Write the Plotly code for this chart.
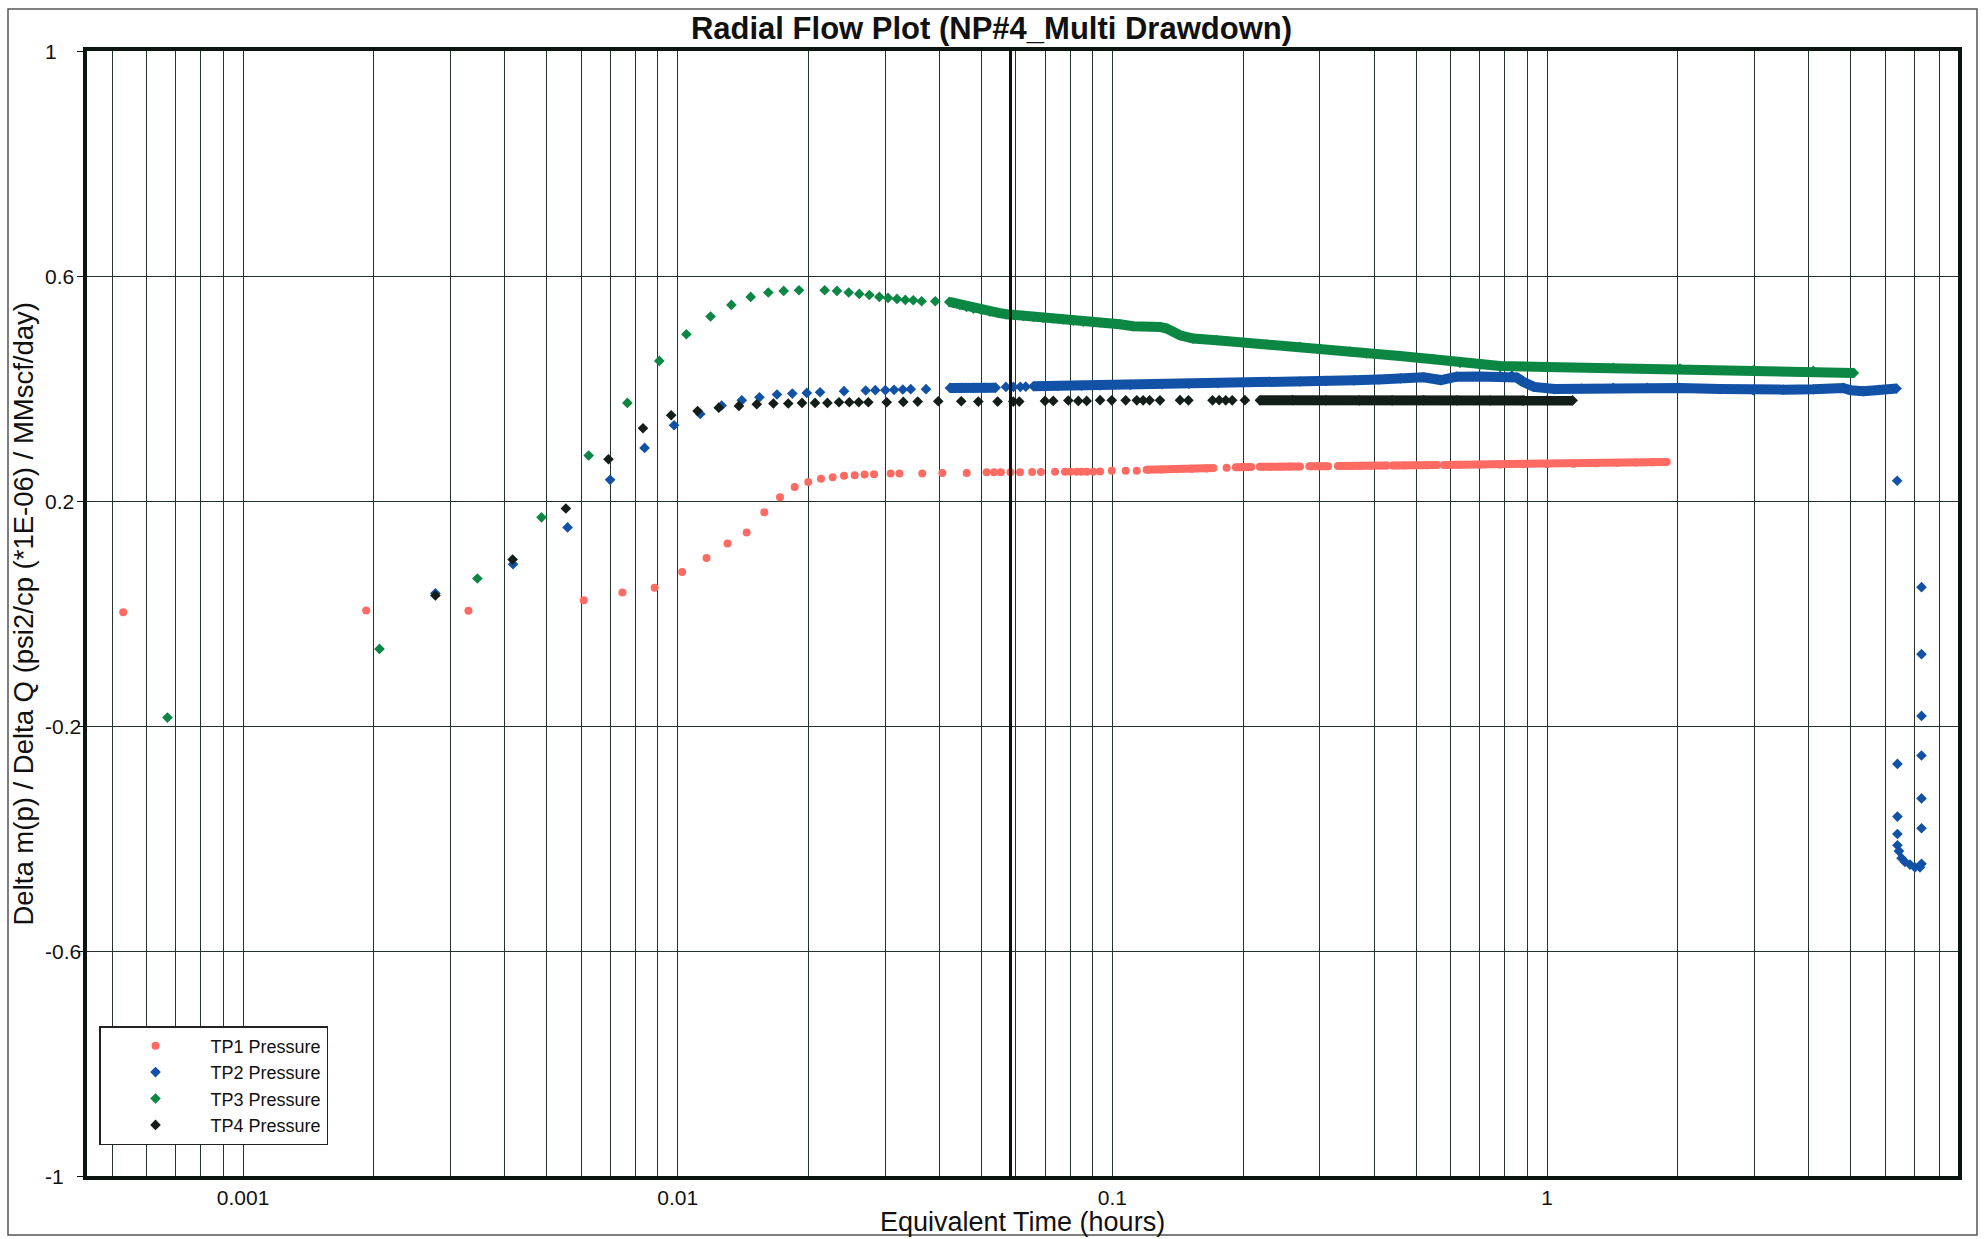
import plotly.graph_objects as go

# ---- Data: equivalent time (hours) and normalised pressure change ----
TP1_TIME = [0.00053, 0.00192, 0.00330, 0.00608, 0.00746, 0.00885, 0.01024, 0.01165,
            0.01302, 0.01441, 0.01582, 0.01719, 0.01858, 0.01997, 0.02136, 0.02273,
            0.02413, 0.02554, 0.02692, 0.02829, 0.03090, 0.03236, 0.03653, 0.04062,
            0.04622, 0.05137, 0.0534, 0.0554, 0.0583, 0.0613, 0.0654, 0.0685, 0.0738,
            0.0778, 0.0801, 0.0828, 0.0849, 0.0873, 0.0904, 0.0937, 0.0997, 0.1073,
            0.1138, 0.1199, 0.1299, 0.1406, 0.1522, 0.1648, 0.1707, 0.1832, 0.1923,
            0.2000, 0.2087, 0.2183, 0.2300, 0.2430, 0.2560, 0.2702, 0.2839, 0.2985,
            0.3135, 0.3302, 0.3500, 0.3720, 0.3950, 0.4279, 0.4418, 0.4700, 0.5000,
            0.5300, 0.5588, 0.5796, 0.6300, 0.7000, 0.7791, 0.8800, 1.0000, 1.1500,
            1.3000, 1.4500, 1.6000, 1.7500, 1.8850]
TP1_VALUE = [0.0024, 0.0054, 0.0047, 0.0237, 0.0374, 0.0456, 0.0740, 0.0985,
             0.1245, 0.1440, 0.1801, 0.2068, 0.2250, 0.2340, 0.2394, 0.2424,
             0.2447, 0.2460, 0.2472, 0.2477, 0.2489, 0.2489, 0.2489, 0.2500,
             0.2500, 0.2510, 0.2510, 0.2510, 0.2512, 0.2512, 0.2515, 0.2515, 0.2518,
             0.2518, 0.2518, 0.2518, 0.2520, 0.2520, 0.2522, 0.2525, 0.2536, 0.2538,
             0.2540, 0.2555, 0.2560, 0.2566, 0.2572, 0.2580, 0.2585, 0.2592, 0.2598,
             0.2603, 0.2606, 0.2608, 0.2610, 0.2611, 0.2612, 0.2614, 0.2616, 0.2618,
             0.2620, 0.2622, 0.2624, 0.2626, 0.2627, 0.2629, 0.2631, 0.2633, 0.2635,
             0.2637, 0.2640, 0.2641, 0.2643, 0.2645, 0.2649, 0.2652, 0.2657, 0.2663,
             0.2670, 0.2678, 0.2685, 0.2690, 0.2695]
TP1_BANDS = [(0.1199, 0.1707), (0.1923, 0.2087), (0.2183, 0.2702), (0.2839, 0.3135),
             (0.3302, 0.4279), (0.4418, 0.5588), (0.5796, 1.8850)]

TP2_TIME = [0.00277, 0.00418, 0.00558, 0.00699, 0.00839, 0.00981, 0.01127, 0.01262,
            0.01404, 0.01542, 0.01692, 0.01835, 0.01981, 0.02126, 0.02413, 0.02707,
            0.02848, 0.03004, 0.03146, 0.03295, 0.03436, 0.03726, 0.0423, 0.0450,
            0.0480, 0.0510, 0.0539, 0.0569, 0.0592, 0.0614, 0.0632, 0.0658, 0.0750,
            0.0850, 0.0937, 0.1100, 0.1300, 0.1500, 0.1750, 0.2000, 0.2300, 0.2700,
            0.3100, 0.3600, 0.4100, 0.4600, 0.5200, 0.5700, 0.6200, 0.7000, 0.7800,
            0.8300, 0.8510, 0.8810, 0.9340, 1.0400, 1.2000, 1.4200, 1.7000, 2.0200,
            2.5000, 2.9800, 3.5000, 4.1000, 4.8000, 5.0000, 5.3400, 5.8000, 6.3700,
            6.39, 7.27, 7.27, 7.27, 6.40, 7.27, 7.27, 6.40, 7.27, 6.40, 6.40, 6.45,
            6.54, 6.66, 6.84, 7.02, 7.21, 7.27]
TP2_VALUE = [0.0360, 0.0877, 0.1530, 0.2376, 0.2944, 0.3347, 0.3548, 0.3698,
             0.3790, 0.3845, 0.3893, 0.3910, 0.3922, 0.3934, 0.3952, 0.3964,
             0.3970, 0.3970, 0.3976, 0.3982, 0.3988, 0.3988, 0.4010, 0.4012,
             0.4012, 0.4014, 0.4015, 0.4028, 0.4028, 0.4030, 0.4032, 0.4040, 0.4045,
             0.4050, 0.4055, 0.4065, 0.4075, 0.4085, 0.4095, 0.4105, 0.4115, 0.4125,
             0.4135, 0.4145, 0.4160, 0.4180, 0.4200, 0.4150, 0.4210, 0.4215, 0.4225,
             0.4230, 0.4195, 0.4120, 0.4028, 0.3990, 0.4000, 0.4010, 0.4010, 0.4010,
             0.3990, 0.3970, 0.3980, 0.3987, 0.4010, 0.3970, 0.3952, 0.3975, 0.4000,
             0.236, 0.0468, -0.0723, -0.182, -0.2674, -0.2524, -0.3287, -0.361, -0.3817,
             -0.392, -0.412, -0.4224, -0.435, -0.4416, -0.4464, -0.4512, -0.4512, -0.445]
TP2_BANDS = [(0.0423, 0.0539), (0.0658, 6.3700)]

TP3_TIME = [0.00067, 0.00206, 0.00346, 0.00486, 0.00624, 0.00766, 0.00907, 0.01047,
            0.01190, 0.01329, 0.01472, 0.01616, 0.01753, 0.01901, 0.02178, 0.02325,
            0.02474, 0.02617, 0.02760, 0.02910, 0.03047, 0.03195, 0.03339, 0.03483,
            0.03640, 0.03913, 0.04215, 0.0430, 0.0446, 0.0462, 0.0479, 0.0500, 0.0523,
            0.0547, 0.0571, 0.0597, 0.0624, 0.0658, 0.0693, 0.0731, 0.0771, 0.0813,
            0.0857, 0.0904, 0.0937, 0.1041, 0.1117, 0.1287, 0.1334, 0.1431, 0.1535,
            0.1737, 0.2000, 0.2264, 0.2702, 0.3004, 0.3521, 0.3846, 0.4587, 0.5472,
            0.6303, 0.7007, 0.7791, 0.9977, 1.4200, 2.0220, 2.9820, 4.0960, 5.0800]
TP3_VALUE = [-0.185, -0.063, 0.0623, 0.1710, 0.2809, 0.3744, 0.4490, 0.4965,
             0.5280, 0.5486, 0.5628, 0.5706, 0.5735, 0.5747, 0.5747, 0.5735,
             0.5706, 0.5681, 0.5663, 0.5628, 0.5610, 0.5592, 0.5575, 0.5569,
             0.5551, 0.5551, 0.5539, 0.5521, 0.5486, 0.5450, 0.5421, 0.5392, 0.5368,
             0.5344, 0.5320, 0.5303, 0.5290, 0.5272, 0.5255, 0.5244, 0.5226, 0.5208,
             0.5190, 0.5178, 0.5173, 0.5143, 0.5107, 0.5095, 0.5066, 0.4947, 0.4888,
             0.4858, 0.4823, 0.4787, 0.4739, 0.4704, 0.4657, 0.4622, 0.4579, 0.4521,
             0.4455, 0.4420, 0.4400, 0.4384, 0.4366, 0.4355, 0.4325, 0.4313, 0.4277]
TP3_BANDS = [(0.04215, 5.0800)]

TP4_TIME = [0.00277, 0.00417, 0.00553, 0.00693, 0.00832, 0.00966, 0.01111, 0.01243,
            0.01383, 0.01520, 0.01660, 0.01796, 0.01932, 0.02070, 0.02210, 0.02350,
            0.02482, 0.02609, 0.02745, 0.03026, 0.03304, 0.03566, 0.03976, 0.04491,
            0.04916, 0.05445, 0.05916, 0.06107, 0.06998, 0.07311, 0.07918, 0.08349,
            0.08727, 0.09370, 0.0997, 0.1073, 0.1138, 0.1177, 0.1218, 0.1287, 0.1431,
            0.1496, 0.1700, 0.1761, 0.1823, 0.1887, 0.2018, 0.2185, 0.2600, 0.3100,
            0.3700, 0.4400, 0.5200, 0.6200, 0.7400, 0.8800, 1.0000, 1.1450]
TP4_VALUE = [0.0320, 0.0960, 0.1867, 0.2743, 0.3294, 0.3525, 0.3600, 0.3660,
             0.3690, 0.3720, 0.3733, 0.3733, 0.3744, 0.3744, 0.3744, 0.3756,
             0.3756, 0.3756, 0.3756, 0.3756, 0.3762, 0.3768, 0.3774, 0.3774,
             0.3768, 0.3768, 0.3768, 0.3768, 0.3780, 0.3780, 0.3786, 0.3780,
             0.3780, 0.3792, 0.3790, 0.3790, 0.3790, 0.3790, 0.3790, 0.3790, 0.3792,
             0.3790, 0.3790, 0.3792, 0.3790, 0.3790, 0.3792, 0.3790, 0.3792, 0.3790,
             0.3788, 0.3790, 0.3792, 0.3790, 0.3786, 0.3784, 0.3786, 0.3788]
TP4_BANDS = [(0.2185, 1.1450)]

SERIES_NAMES = ["TP1 Pressure", "TP2 Pressure", "TP3 Pressure", "TP4 Pressure"]
SERIES_COLORS = ["#FF6B62", "#1152A6", "#0C8743", "#141E19"]
SERIES_SYMBOLS = ["circle", "diamond", "diamond", "diamond"]

# Gridline positions on the log time axis, labels only at decades
X_GRID = [0.0005, 0.0006, 0.0007, 0.0008, 0.0009,
          0.001, 0.002, 0.003, 0.004, 0.005, 0.006, 0.007, 0.008, 0.009,
          0.01, 0.02, 0.03, 0.04, 0.05, 0.06, 0.07, 0.08, 0.09,
          0.1, 0.2, 0.3, 0.4, 0.5, 0.6, 0.7, 0.8, 0.9,
          1, 2, 3, 4, 5, 6, 7, 8]
X_LABELS = {0.001: "0.001", 0.01: "0.01", 0.1: "0.1", 1: "1"}
X_RANGE_LOG = [-3.359, 0.9455]

Y_TICKS = [1, 0.6, 0.2, -0.2, -0.6, -1]
Y_TICK_TEXT = ["1", "0.6", "0.2", "-0.2", "-0.6", "-1"]

MARKER_TIME = 0.0583  # heavy vertical reference line

FONT = "Liberation Sans, Arial, Helvetica, sans-serif"
GRID_COLOR = "#22342B"
AXIS_COLOR = "#0B1510"


def band_xy(times, values, bands):
    """Connect the densely sampled stretches of a series into a solid band."""
    bx, by = [], []
    for lo, hi in bands:
        for t, v in zip(times, values):
            if lo <= t <= hi:
                bx.append(t)
                by.append(v)
        bx.append(None)
        by.append(None)
    return bx, by


fig = go.Figure()

all_series = [(TP1_TIME, TP1_VALUE, TP1_BANDS), (TP2_TIME, TP2_VALUE, TP2_BANDS),
              (TP3_TIME, TP3_VALUE, TP3_BANDS), (TP4_TIME, TP4_VALUE, TP4_BANDS)]

for (times, values, bands), name, color, symbol in zip(all_series, SERIES_NAMES,
                                                        SERIES_COLORS, SERIES_SYMBOLS):
    bx, by = band_xy(times, values, bands)
    round_marker = symbol == "circle"
    fig.add_trace(go.Scatter(
        x=bx, y=by, mode="lines", showlegend=False, legendgroup=name,
        line=dict(color=color, width=8 if round_marker else 10),
        hoverinfo="skip", connectgaps=False,
    ))
    fig.add_trace(go.Scatter(
        x=times, y=values, mode="markers", name=name, legendgroup=name,
        marker=dict(color=color, symbol=symbol, size=8 if round_marker else 8.2,
                    line=dict(width=0)),
    ))

W, H = 1987, 1239
ML, MR, MT, MB = 87, 29, 51, 63
PW, PH = W - ML - MR, H - MT - MB


def px_x(px):
    return (px - ML) / PW


def px_y(py):
    return 1 - (py - MT) / PH


fig.update_layout(
    width=W, height=H,
    margin=dict(l=ML, r=MR, t=MT, b=MB),
    paper_bgcolor="white", plot_bgcolor="white",
    font=dict(family=FONT, color="#111111"),
    title=dict(text="<b>Radial Flow Plot (NP#4_Multi Drawdown)</b>",
               x=991.5 / W, xref="container", xanchor="center",
               y=1 - 28 / H, yref="container", yanchor="middle",
               font=dict(size=31, family=FONT, color="#111111")),
    xaxis=dict(
        type="log", range=X_RANGE_LOG,
        tickvals=X_GRID,
        ticktext=[X_LABELS.get(v, "") for v in X_GRID],
        showgrid=True, gridcolor=GRID_COLOR, gridwidth=1.3,
        showline=True, linecolor=AXIS_COLOR, linewidth=3.5, mirror=True,
        ticks="", tickfont=dict(size=21, family=FONT, color="#111111"),
        zeroline=False,
    ),
    yaxis=dict(
        range=[-1, 1], tickvals=Y_TICKS, showticklabels=False,
        showgrid=True, gridcolor=GRID_COLOR, gridwidth=1.3,
        showline=True, linecolor=AXIS_COLOR, linewidth=3.5, mirror=True,
        ticks="outside", ticklen=6, tickcolor=AXIS_COLOR, tickwidth=1.3,
        zeroline=False,
    ),
    legend=dict(
        x=px_x(99), y=px_y(1145), xanchor="left", yanchor="bottom",
        bgcolor="white", bordercolor="#222222", borderwidth=1.5,
        font=dict(size=18, family=FONT, color="#111111"),
        itemwidth=100, tracegroupgap=0,
    ),
    showlegend=True,
)

# y tick labels, left aligned in the margin
for val, txt in zip(Y_TICKS, Y_TICK_TEXT):
    fig.add_annotation(x=px_x(43), xref="paper", y=val, yref="y", text=txt,
                       showarrow=False, xanchor="left", yanchor="middle",
                       font=dict(size=21, family=FONT, color="#111111"))

# axis titles
fig.add_annotation(x=0.5, xref="paper", y=px_y(1222), yref="paper",
                   text="Equivalent Time (hours)", showarrow=False,
                   xanchor="center", yanchor="middle",
                   font=dict(size=27, family=FONT, color="#111111"))
fig.add_annotation(x=px_x(23), xref="paper", y=0.5, yref="paper",
                   text="Delta m(p) / Delta Q (psi2/cp (*1E-06) / MMscf/day)",
                   textangle=-90, showarrow=False, xanchor="center", yanchor="middle",
                   font=dict(size=27.5, family=FONT, color="#111111"))

# heavy vertical reference line
fig.add_shape(type="line", xref="x", yref="paper", x0=MARKER_TIME, x1=MARKER_TIME,
              y0=0, y1=1, line=dict(color=AXIS_COLOR, width=3), layer="above")

# outer chart frame
fig.add_shape(type="rect", xref="paper", yref="paper",
              x0=px_x(8), x1=px_x(1977), y0=px_y(1235), y1=px_y(9),
              line=dict(color="#555555", width=1.5), fillcolor="rgba(0,0,0,0)")

fig.write_html("out.html")
